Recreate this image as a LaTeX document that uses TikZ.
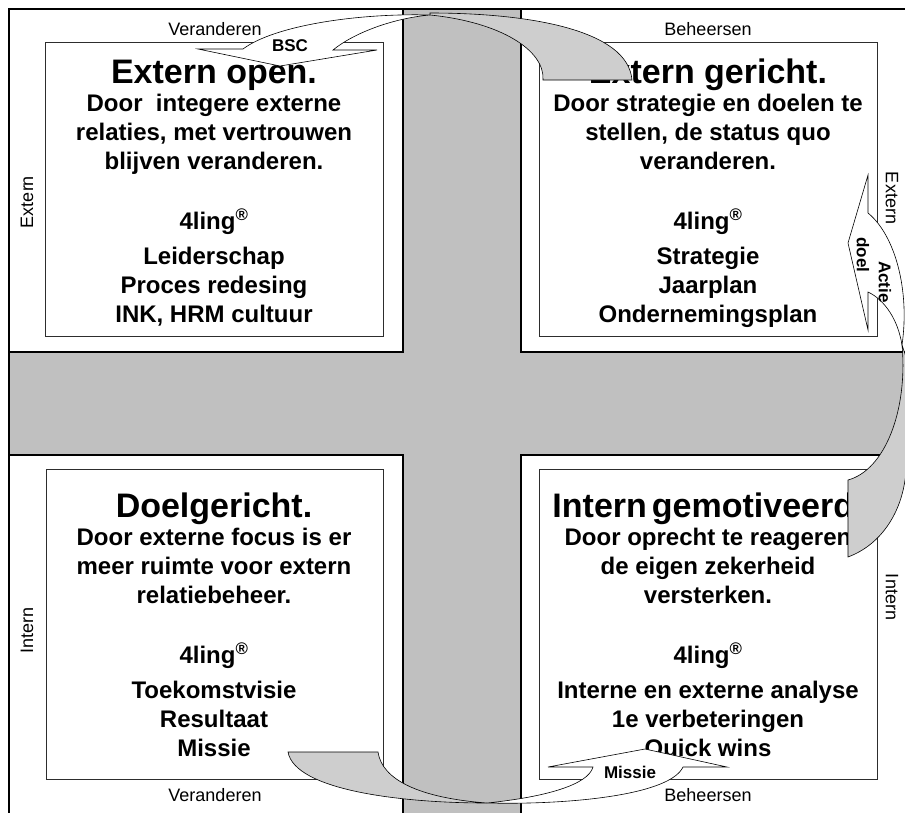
\documentclass[tikz,border=0pt]{standalone}
\usepackage{fontspec}
\setmainfont{Liberation Sans}
\usetikzlibrary{positioning}

\definecolor{crossgray}{RGB}{192,192,192}
\definecolor{arrowgray}{RGB}{206,206,206}
\definecolor{boxline}{RGB}{45,45,45}

\begin{document}
\begin{tikzpicture}[
    x=1pt, y=-1pt,
    frameline/.style={draw=black, line width=2.6pt},
    crossband/.style={draw=black, line width=2pt, fill=crossgray},
    quadbox/.style={draw=boxline, line width=1pt, fill=white},
    bandback/.style={draw=black, line width=0.6pt, fill=arrowgray},
    bandfront/.style={draw=black, line width=0.6pt, fill=white},
    titletxt/.style={font=\fontsize{34}{38}\selectfont\bfseries, inner sep=0pt, anchor=base},
    bodytxt/.style={font=\fontsize{24}{29}\selectfont\bfseries, align=center, inner sep=0pt, anchor=north},
    sidetxt/.style={font=\fontsize{18}{20}\selectfont, inner sep=0pt},
    tagtxt/.style={font=\fontsize{17}{19}\selectfont\bfseries, inner sep=0pt}
]

    % --- 1. canvas ---
    \useasboundingbox (0,0) rectangle (905,812);
    \clip (0,0) rectangle (905,812);

    % buitenkader
    \draw[frameline] (9,9) rectangle (960,860);

    % grijs kruis
    \draw[crossband] (403,9) -- (521,9) -- (521,352) -- (960,352) -- (960,455)
        -- (521,455) -- (521,860) -- (403,860) -- (403,455) -- (9,455)
        -- (9,352) -- (403,352) -- cycle;

    % --- 2. de vier kwadranten ---
    \draw[quadbox] (45,42) rectangle (383,336);   % links boven
    \draw[quadbox] (539,42) rectangle (877,336);  % rechts boven
    \draw[quadbox] (46,469) rectangle (383,779);  % links onder
    \draw[quadbox] (539,469) rectangle (877,779); % rechts onder

    % --- 3. teksten in de kwadranten ---
    \node[titletxt] (titleTL) at (214,83) {Extern open.};
    \node[bodytxt] (bodyTL) at (214,94) {Door~ integere externe\\relaties, met vertrouwen\\blijven veranderen.\\[31pt]
        4ling\textsuperscript{®}\\[6pt]Leiderschap\\Proces redesing\\INK, HRM cultuur};

    \node[titletxt] (titleTR) at (708,83) {Extern gericht.};
    \node[bodytxt] (bodyTR) at (708,94) {Door strategie en doelen te\\stellen, de status quo\\veranderen.\\[31pt]
        4ling\textsuperscript{®}\\[6pt]Strategie\\Jaarplan\\Ondernemingsplan};

    \node[titletxt] (titleBL) at (214,517) {Doelgericht.};
    \node[bodytxt] (bodyBL) at (214,528) {Door externe focus is er\\meer ruimte voor extern\\relatiebeheer.\\[31pt]
        4ling\textsuperscript{®}\\[6pt]Toekomstvisie\\Resultaat\\Missie};

    \node[titletxt] (titleBR) at (708,517) {Intern\hspace{5pt}gemotiveerd.};
    \node[bodytxt] (bodyBR) at (708,528) {Door oprecht te reageren\\de eigen zekerheid\\versterken.\\[31pt]
        4ling\textsuperscript{®}\\[6pt]Interne en externe analyse\\1e verbeteringen\\Quick wins};

    % --- 4. assen ---
    \node[sidetxt, anchor=base] (verTop) at (215,35) {Veranderen};
    \node[sidetxt, anchor=base] (behTop) at (708,35) {Beheersen};
    \node[sidetxt, anchor=base] (verBot) at (215,801) {Veranderen};
    \node[sidetxt, anchor=base] (behBot) at (708,801) {Beheersen};
    \node[sidetxt, rotate=90] (extLeft) at (27,202) {Extern};
    \node[sidetxt, rotate=90] (intLeft) at (27,630) {Intern};
    \node[sidetxt, rotate=-90] (extRight) at (892,198) {Extern};
    \node[sidetxt, rotate=-90] (intRight) at (892,597) {Intern};

    % --- 5. gebogen pijlen ---
    % BSC (boven)
    \draw[bandback] (430,13) .. controls (530,13) and (628,30) .. (632,80)
        -- (543,80) .. controls (545,50) and (500,22) .. (430,15) -- cycle;
    \draw[bandfront] (198,49) -- (280,66) -- (377,50) -- (333,50)
        .. controls (355,32) and (395,18) .. (430,15)
        .. controls (360,13) and (275,25) .. (243,49) -- cycle;
    \node[tagtxt] (bsc) at (290,46) {BSC};

    % Actie doel (rechts)
    \draw[bandback] (902,345) .. controls (908,410) and (885,470) .. (848,480)
        -- (848,557) .. controls (880,545) and (900,515) .. (905,480)
        .. controls (915,430) and (915,380) .. (902,345) -- cycle;
    \draw[bandfront] (868,175) -- (848,243) -- (868,330) -- (868,292)
        .. controls (885,300) and (898,320) .. (902,345)
        .. controls (910,290) and (895,235) .. (868,213) -- cycle;
    \node[tagtxt, rotate=-90] (actie) at (885,282) {Actie};
    \node[tagtxt, rotate=-90] (doel) at (863,255) {doel};

    % Missie (onder)
    \draw[bandback] (288,752) -- (378,752) .. controls (382,780) and (420,798) .. (487,803)
        .. controls (400,803) and (295,790) .. (288,752) -- cycle;
    \draw[bandfront] (487,803) .. controls (545,797) and (588,785) .. (593,767)
        -- (548,767) -- (645,749) -- (727,767) -- (683,767)
        .. controls (670,795) and (570,805) .. (487,803) -- cycle;
    \node[tagtxt] (missie) at (630,772) {Missie};

\end{tikzpicture}
\end{document}
